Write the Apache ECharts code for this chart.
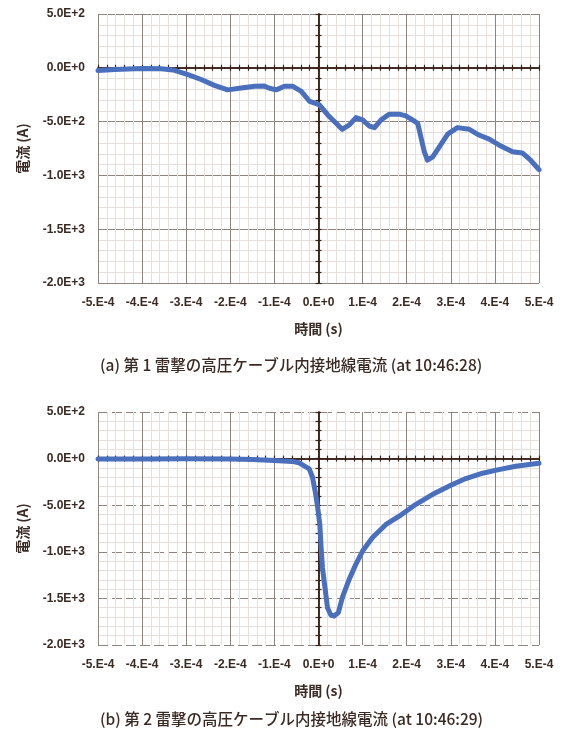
<!DOCTYPE html>
<html lang="ja">
<head>
    <meta charset="UTF-8">
    <title>接地線電流</title>
    <script type="text/javascript" src="https://cdn.jsdelivr.net/npm/echarts@6/dist/echarts.min.js"></script>
    <style>
        body { margin: 0; background: #fff; }
    </style>
</head>
<body>
    <div id="main" style="width: 564px;height:731px;"></div>
    <script type="text/javascript">

        // 目盛ラベル
        var xTickLabels = ['-5.E-4', '-4.E-4', '-3.E-4', '-2.E-4', '-1.E-4', '0.E+0', '1.E-4', '2.E-4', '3.E-4', '4.E-4', '5.E-4'];
        var yTickLabels = ['5.0E+2', '0.0E+0', '-5.0E+2', '-1.0E+3', '-1.5E+3', '-2.0E+3'];

        // (a) 第1雷撃 (at 10:46:28)
        var time1 = [-5.0e-4, -4.62e-4, -4.32e-4, -3.98e-4, -3.57e-4, -3.30e-4, -2.96e-4, -2.66e-4, -2.36e-4, -2.06e-4,
            -1.75e-4, -1.45e-4, -1.23e-4, -1.11e-4, -0.96e-4, -0.77e-4, -0.58e-4, -0.39e-4, -0.20e-4, -0.05e-4,
            0.02e-4, 0.21e-4, 0.40e-4, 0.535e-4, 0.70e-4, 0.85e-4, 1.0e-4, 1.15e-4, 1.27e-4, 1.42e-4,
            1.60e-4, 1.83e-4, 1.98e-4, 2.13e-4, 2.25e-4, 2.32e-4, 2.40e-4, 2.47e-4, 2.59e-4, 2.74e-4,
            2.93e-4, 3.15e-4, 3.42e-4, 3.64e-4, 3.87e-4, 4.10e-4, 4.40e-4, 4.62e-4, 4.81e-4, 5.0e-4];
        var current1 = [-25, -16, -12, -6, -9, -20, -63, -109, -163, -205,
            -188, -172, -170, -190, -205, -172, -172, -219, -313, -334,
            -344, -438, -516, -572, -531, -463, -484, -541, -556, -484,
            -431, -431, -447, -484, -516, -641, -781, -859, -828, -734,
            -616, -556, -572, -625, -663, -719, -781, -791, -859, -947];

        // (b) 第2雷撃 (at 10:46:29)
        var time2 = [-5.0e-4, -4.0e-4, -3.0e-4, -2.0e-4, -1.5e-4, -1.0e-4, -0.6e-4, -0.44e-4, -0.21e-4, -0.136e-4,
            -0.076e-4, -0.023e-4, 0.03e-4, 0.06e-4, 0.09e-4, 0.128e-4, 0.166e-4, 0.204e-4, 0.28e-4, 0.355e-4,
            0.45e-4, 0.54e-4, 0.695e-4, 0.846e-4, 1.0e-4, 1.22e-4, 1.53e-4, 1.83e-4, 2.2e-4, 2.58e-4,
            3.0e-4, 3.34e-4, 3.72e-4, 4.09e-4, 4.47e-4, 5.0e-4];
        var current2 = [-5, -3, -2, -5, -10, -20, -30, -45, -110, -200,
            -350, -510, -707, -957, -1171, -1314, -1457, -1600, -1678, -1689,
            -1653, -1492, -1296, -1135, -992, -850, -707, -618, -493, -386,
            -286, -214, -157, -118, -82, -50];

        var textColor = '#3a2a24';
        var axisColor = '#3a2218';
        var majorColor = '#8e847f';
        var minorColor = '#e6dfdc';
        var numFont = 'Liberation Sans';
        var jpFont = 'Noto Sans CJK JP';

        function pairs(xs, ys) {
            return xs.map(function (x, i) { return [x, ys[i]]; });
        }

        function xLabel(v) {
            return xTickLabels[Math.round((v + 5e-4) / 1e-4)];
        }
        function yLabel(v) {
            return yTickLabels[Math.round((500 - v) / 500)];
        }

        var xBase = { type: 'value', min: -5e-4, max: 5e-4, interval: 1e-4 };
        var yBase = { type: 'value', min: -2000, max: 500, interval: 500 };

        // ラベル・グリッド用の軸
        function mainX(g) {
            return Object.assign({}, xBase, {
                gridIndex: g,
                position: 'bottom',
                name: '時間 (s)',
                nameLocation: 'middle',
                nameGap: 39,
                nameTextStyle: { fontFamily: jpFont, fontSize: 14, fontWeight: 'bold', color: textColor },
                axisLine: { show: false, onZero: false },
                axisTick: { show: false },
                axisLabel: { formatter: xLabel, margin: 14, fontFamily: numFont, fontSize: 12, fontWeight: 'bold', color: textColor },
                splitLine: { show: true, lineStyle: { color: majorColor, width: 1 } },
                minorTick: { show: false, splitNumber: 5 },
                minorSplitLine: { show: true, lineStyle: { color: minorColor, width: 1 } }
            });
        }
        function mainY(g, dashed) {
            return Object.assign({}, yBase, {
                gridIndex: g,
                position: 'left',
                name: '電流 (A)',
                nameLocation: 'middle',
                nameGap: 68,
                nameRotate: 90,
                nameTextStyle: { fontFamily: jpFont, fontSize: 14, fontWeight: 'bold', color: textColor },
                axisLine: { show: false, onZero: false },
                axisTick: { show: false },
                axisLabel: { formatter: yLabel, margin: 13, fontFamily: numFont, fontSize: 12, fontWeight: 'bold', color: textColor },
                splitLine: { show: true, lineStyle: { color: majorColor, width: 1, type: dashed ? [10, 4] : 'solid' } },
                minorTick: { show: false, splitNumber: 5 },
                minorSplitLine: { show: true, lineStyle: { color: minorColor, width: 1 } }
            });
        }
        // 0 を通る軸線 (目盛は両側)
        function zeroAxis(base, g, pos, other, inside) {
            return Object.assign({}, base, {
                gridIndex: g,
                position: pos,
                axisLine: { show: true, onZero: true, onZeroAxisIndex: other, lineStyle: { color: axisColor, width: 1.5 } },
                axisTick: { show: true, inside: inside, length: 3, lineStyle: { color: axisColor, width: 1.2 } },
                minorTick: { show: true, splitNumber: 5, length: 3, lineStyle: { color: axisColor, width: 1.2 } },
                axisLabel: { show: false },
                splitLine: { show: false }
            });
        }

        var myChart = echarts.init(document.getElementById('main'));

        var option = {
            backgroundColor: '#ffffff',
            animation: false,
            grid: [
                { left: 98, top: 14, width: 441, height: 269 },
                { left: 98, top: 412, width: 441, height: 233 }
            ],
            xAxis: [
                mainX(0), zeroAxis(xBase, 0, 'bottom', 0, false), zeroAxis(xBase, 0, 'bottom', 0, true),
                mainX(1), zeroAxis(xBase, 1, 'bottom', 3, false), zeroAxis(xBase, 1, 'bottom', 3, true)
            ],
            yAxis: [
                mainY(0, false), zeroAxis(yBase, 0, 'left', 0, false), zeroAxis(yBase, 0, 'left', 0, true),
                mainY(1, true), zeroAxis(yBase, 1, 'left', 3, false), zeroAxis(yBase, 1, 'left', 3, true)
            ],
            graphic: [
                {
                    type: 'text', left: 100, top: 357,
                    style: { text: '(a) 第 1 雷撃の高圧ケーブル内接地線電流 (at 10:46:28)', fontFamily: jpFont, fontSize: 15.5, fontWeight: 500, fill: textColor }
                },
                {
                    type: 'text', left: 100, top: 711,
                    style: { text: '(b) 第 2 雷撃の高圧ケーブル内接地線電流 (at 10:46:29)', fontFamily: jpFont, fontSize: 15.5, fontWeight: 500, fill: textColor }
                }
            ],
            series: [
                {
                    name: '第1雷撃',
                    type: 'line',
                    xAxisIndex: 0,
                    yAxisIndex: 0,
                    showSymbol: false,
                    lineStyle: { color: '#4a6fbd', width: 5, join: 'round', cap: 'round' },
                    data: pairs(time1, current1)
                },
                {
                    name: '第2雷撃',
                    type: 'line',
                    xAxisIndex: 3,
                    yAxisIndex: 3,
                    showSymbol: false,
                    lineStyle: { color: '#4a6fbd', width: 5, join: 'round', cap: 'round' },
                    data: pairs(time2, current2)
                }
            ]
        };

        myChart.setOption(option);

    </script>
</body>
</html>
